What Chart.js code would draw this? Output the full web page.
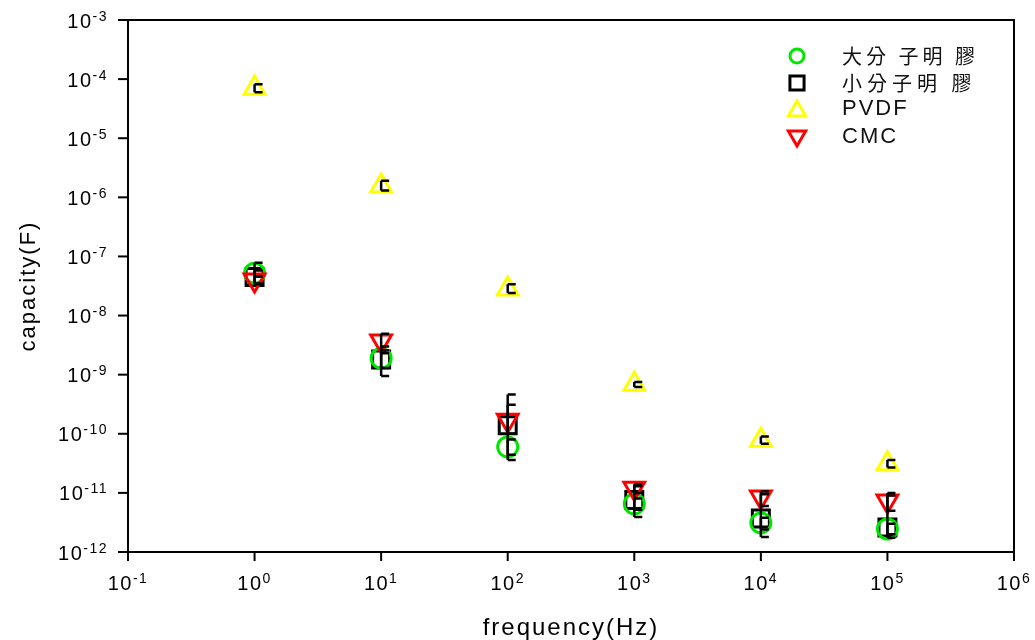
<!DOCTYPE html>
<html>
<head>
<meta charset="utf-8">
<script src="https://cdn.jsdelivr.net/npm/chart.js@4.4.0/dist/chart.umd.min.js"></script>
<style>
  html, body { margin: 0; padding: 0; background: #fff; }
  #wrap { width: 1035px; height: 640px; }
</style>
</head>
<body>
<div id="wrap"><canvas id="capChart"></canvas></div>
<script>
// frequencies (Hz) and capacity (F)
const frequencies = [1, 10, 100, 1000, 10000, 100000];
const seriesNames = ['大分 子明 膠', '小分子明 膠', 'PVDF', 'CMC'];

const bigGelatin = [5.2e-8, 1.9e-9, 6e-11, 6.5e-12, 3.1e-12, 2.45e-12];
const smallGelatin = [4.5e-8, 1.8e-9, 1.4e-10, 7.6e-12, 3.7e-12, 2.6e-12];
const pvdf = [7e-5, 1.55e-6, 2.8e-8, 6.9e-10, 7.8e-11, 3.1e-11];
const cmc = [4e-8, 3.7e-9, 1.7e-10, 1.2e-11, 8.5e-12, 7.3e-12];

// error bar ends
const bigGelatinHigh = [5.8e-8, 2.3e-9, 8e-11, 8e-12, 3.8e-12, 3e-12];
const bigGelatinLow = [4.6e-8, 1.3e-9, 4.4e-11, 5.2e-12, 2.4e-12, 2e-12];
const smallGelatinHigh = [7.8e-8, 3e-9, 4.6e-10, 1.3e-11, 1.06e-11, 9e-12];
const smallGelatinLow = [3.5e-8, 9.5e-10, 3.6e-11, 3.9e-12, 1.8e-12, 1.75e-12];
const pvdfHigh = [8.2e-5, 1.9e-6, 3.4e-8, 7.5e-10, 9e-11, 3.6e-11];
const pvdfLow = [6e-5, 1.3e-6, 2.4e-8, 6.2e-10, 6.8e-11, 2.7e-11];
const cmcHigh = [4.6e-8, 4.9e-9, 3.1e-10, 1.4e-11, 9.5e-12, 1e-11];
const cmcLow = [3.4e-8, 2.6e-9, 1e-10, 1e-11, 6e-12, 5e-12];

// decade tick exponents
const xTickExps = [-1, 0, 1, 2, 3, 4, 5, 6];
const yTickExps = [-3, -4, -5, -6, -7, -8, -9, -10, -11, -12];

const FONT = '"Liberation Sans", Arial, sans-serif';
const CJK = '"Noto Sans CJK TC", "Noto Sans CJK SC", sans-serif';

function toPoints(vals) {
    return frequencies.map((f, i) => ({ x: f, y: vals[i] }));
}

const markers = [
    { style: 'circle', color: '#00e600', radius: 10, rotation: 0 },
    { style: 'rect', color: '#000000', radius: 12, rotation: 0 },
    { style: 'triangle', color: '#ffff00', radius: 12, rotation: 0 },
    { style: 'triangle', color: '#ff0000', radius: 12, rotation: 180 }
];
const seriesValues = [bigGelatin, smallGelatin, pvdf, cmc];
const seriesHigh = [bigGelatinHigh, smallGelatinHigh, pvdfHigh, cmcHigh];
const seriesLow = [bigGelatinLow, smallGelatinLow, pvdfLow, cmcLow];
const drawOrder = [1, 2, 3, 0];

const datasets = seriesNames.map((name, i) => ({
    label: name,
    data: toPoints(seriesValues[i]),
    showLine: false,
    pointStyle: markers[i].style,
    pointRadius: markers[i].radius,
    pointHoverRadius: markers[i].radius,
    pointRotation: markers[i].rotation,
    borderColor: markers[i].color,
    backgroundColor: 'rgba(0,0,0,0)',
    borderWidth: 3,
    order: drawOrder[i]
}));

function drawPower(ctx, exp, x, baseY, align, big, small, rise) {
    ctx.font = big + 'px ' + FONT;
    const wb = ctx.measureText('10').width;
    ctx.font = small + 'px ' + FONT;
    const we = ctx.measureText(String(exp)).width;
    const total = wb + we;
    const left = align === 'right' ? x - total : x - total / 2;
    ctx.font = big + 'px ' + FONT;
    ctx.fillText('10', left, baseY);
    ctx.font = small + 'px ' + FONT;
    ctx.fillText(String(exp), left + wb, baseY - rise);
}

const decor = {
    id: 'decor',
    beforeDraw(chart) {
        chart.ctx.letterSpacing = '2px';
    },
    afterDatasetsDraw(chart) {
        const { ctx, scales: { x, y } } = chart;
        ctx.save();
        ctx.strokeStyle = '#000';
        ctx.lineWidth = 2.5;
        seriesHigh.forEach((hi, s) => {
            frequencies.forEach((f, j) => {
                const px = x.getPixelForValue(f);
                const yHi = y.getPixelForValue(hi[j]);
                const yLo = y.getPixelForValue(seriesLow[s][j]);
                ctx.beginPath();
                ctx.moveTo(px, yHi);
                ctx.lineTo(px, yLo);
                ctx.moveTo(px, yHi);
                ctx.lineTo(px + 8, yHi);
                ctx.moveTo(px, yLo);
                ctx.lineTo(px + 8, yLo);
                ctx.stroke();
            });
        });
        ctx.restore();
    },
    afterDraw(chart) {
        const { ctx, chartArea, scales: { x, y } } = chart;
        ctx.save();
        ctx.strokeStyle = '#000';
        ctx.fillStyle = '#000';
        ctx.lineWidth = 2;
        // top and right frame
        ctx.beginPath();
        ctx.moveTo(chartArea.left, chartArea.top);
        ctx.lineTo(chartArea.right, chartArea.top);
        ctx.lineTo(chartArea.right, chartArea.bottom);
        ctx.stroke();

        // decade tick marks + labels
        ctx.textAlign = 'left';
        ctx.textBaseline = 'alphabetic';
        ctx.letterSpacing = '1.5px';
        yTickExps.forEach(e => {
            const py = y.getPixelForValue(Math.pow(10, e));
            ctx.beginPath();
            ctx.moveTo(chartArea.left - 10, py);
            ctx.lineTo(chartArea.left, py);
            ctx.stroke();
            drawPower(ctx, e, chartArea.left - 20, py + 7.5, 'right', 20, 14, 7);
        });
        xTickExps.forEach(e => {
            const px = x.getPixelForValue(Math.pow(10, e));
            ctx.beginPath();
            ctx.moveTo(px, chartArea.bottom);
            ctx.lineTo(px, chartArea.bottom + 9);
            ctx.stroke();
            drawPower(ctx, e, px, 590, 'center', 20, 14, 7);
        });

        // legend
        const legX = 797, textX = 842;
        const rows = [56, 83, 109, 137];
        const drawPoint = Chart.helpers && Chart.helpers.drawPoint;
        seriesNames.forEach((name, i) => {
            const m = markers[i];
            ctx.strokeStyle = m.color;
            ctx.fillStyle = 'rgba(0,0,0,0)';
            ctx.lineWidth = 3;
            if (drawPoint) {
                drawPoint(ctx, {
                    pointStyle: m.style,
                    radius: m.style === 'circle' ? 7 : 10,
                    rotation: m.rotation,
                    borderWidth: 3
                }, legX, rows[i] + (m.style === 'triangle' ? (m.rotation ? -1 : 2) : 0));
            }
            ctx.fillStyle = '#111';
            ctx.textBaseline = 'middle';
            const cjk = /[\u4e00-\u9fff]/.test(name);
            ctx.font = cjk ? '20px ' + CJK : '22px ' + FONT;
            ctx.letterSpacing = cjk ? (i === 1 ? '5px' : '4px') : '2px';
            ctx.fillText(name, textX, rows[i]);
        });
        ctx.restore();
    }
};

new Chart(document.getElementById('capChart'), {
    type: 'scatter',
    data: { datasets: datasets },
    options: {
        responsive: true,
        maintainAspectRatio: false,
        animation: false,
        layout: { padding: { top: 20, right: 21, left: 0, bottom: 0 } },
        plugins: {
            legend: { display: false },
            tooltip: { enabled: false }
        },
        scales: {
            x: {
                type: 'logarithmic',
                min: 0.1,
                max: 1e6,
                grid: { display: false },
                border: { display: true, color: '#000', width: 2 },
                ticks: { display: false },
                title: {
                    display: true,
                    text: 'frequency(Hz)',
                    color: '#000',
                    font: { family: FONT, size: 24 },
                    padding: { top: 0, bottom: -3 }
                },
                afterFit(scale) { scale.height = 88; }
            },
            y: {
                type: 'logarithmic',
                min: 1e-12,
                max: 1e-3,
                grid: { display: false },
                border: { display: true, color: '#000', width: 2 },
                ticks: { display: false },
                title: {
                    display: true,
                    text: 'capacity(F)',
                    color: '#000',
                    font: { family: FONT, size: 22 },
                    padding: { top: 16, bottom: 0 }
                },
                afterFit(scale) { scale.width = 128; }
            }
        }
    },
    plugins: [decor]
});
</script>
</body>
</html>
